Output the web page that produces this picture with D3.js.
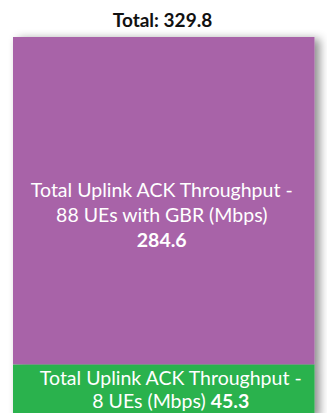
<!DOCTYPE html>
<html>
<head>
<meta charset="utf-8">
<script src="https://cdn.jsdelivr.net/npm/d3@7"></script>
<style>
  html, body { margin: 0; padding: 0; background: #fff; }
  svg { display: block; }
  text { font-family: Lato, "Open Sans", sans-serif; }
</style>
</head>
<body>
<svg id="chart" width="327" height="413"></svg>
<script>
// Stacked throughput segments, bottom to top
const segments = ["8 UEs", "88 UEs with GBR"];
const values = [45.3, 284.6];
const totalValue = 329.8;
const labelLines = [
  ["Total Uplink ACK Throughput -", "8 UEs (Mbps) "],
  ["Total Uplink ACK Throughput -", "88 UEs with GBR (Mbps)", ""]
];
const colors = ["#29b24d", "#a864a8"];

const width = 327, height = 413;
const svg = d3.select("#chart");

const margin = { left: 13, right: 12.5, top: 37 };
const plotBottom = 416.5;

const x = d3.scaleBand().domain(["all"]).range([margin.left, width - margin.right]).padding(0);
const y = d3.scaleLinear().domain([0, d3.sum(values)]).range([plotBottom, margin.top]);

// soft shadow behind the bar
const defs = svg.append("defs");
const f = defs.append("filter").attr("id", "shadow")
  .attr("x", "-10%").attr("y", "-10%").attr("width", "125%").attr("height", "125%");
f.append("feDropShadow").attr("dx", 5).attr("dy", 2).attr("stdDeviation", 5)
  .attr("flood-color", "#000").attr("flood-opacity", 0.45);

const stacked = [];
let acc = 0;
values.forEach((v, i) => { stacked.push({ key: segments[i], y0: acc, y1: acc + v, value: v, i }); acc += v; });

const g = svg.append("g").attr("filter", "url(#shadow)");
g.selectAll("rect").data(stacked).join("rect")
  .attr("x", x("all"))
  .attr("width", x.bandwidth())
  .attr("y", d => y(d.y1))
  .attr("height", d => y(d.y0) - y(d.y1))
  .attr("fill", d => colors[d.i]);

// title
svg.append("text")
  .attr("x", 162.5).attr("y", 26.5)
  .attr("text-anchor", "middle")
  .attr("font-weight", "bold").attr("font-size", 19).attr("fill", "#111")
  .text("Total: " + totalValue.toFixed(1));

// segment labels
const labelStyle = [
  { dx: 7, lineH: 23.4, top: 384.5 },
  { dx: -2, lineH: 25, top: 197 }
];
stacked.forEach(d => {
  const st = labelStyle[d.i];
  const cx = x("all") + x.bandwidth() / 2 + st.dx;
  const lines = labelLines[d.i];
  const t = svg.append("text")
    .attr("text-anchor", "middle")
    .attr("fill", "#fff")
    .attr("font-size", 19.5);
  lines.forEach((ln, k) => {
    const ts = t.append("tspan").attr("x", cx).attr("y", st.top + k * st.lineH).text(ln);
    if (k === lines.length - 1) {
      ts.append("tspan").attr("font-weight", "bold").text(d.value.toFixed(1));
    }
  });
});
</script>
</body>
</html>
